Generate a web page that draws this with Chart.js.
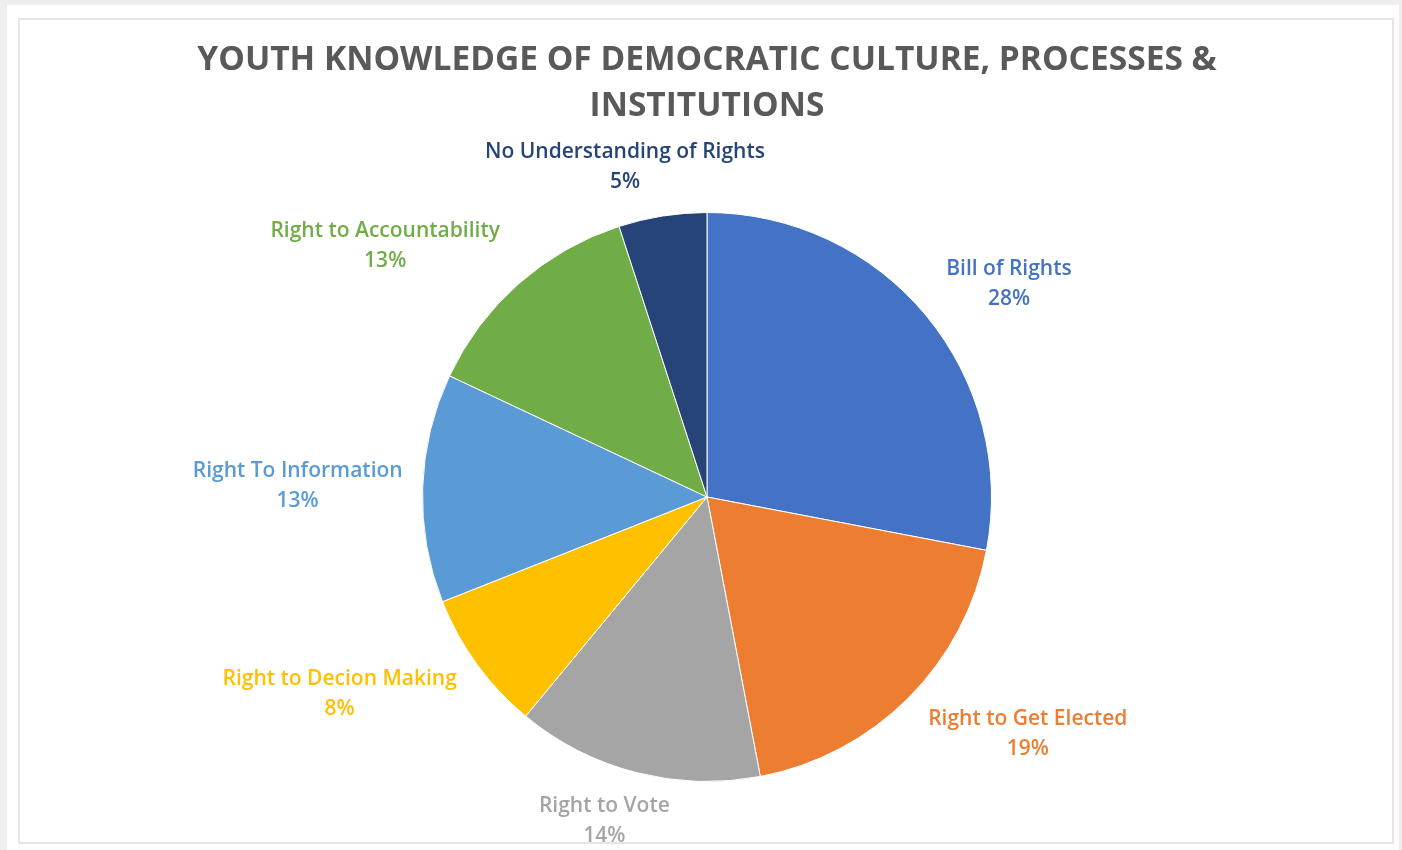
<!DOCTYPE html>
<html>
<head>
<meta charset="utf-8">
<script src="https://cdn.jsdelivr.net/npm/chart.js@4"></script>
<style>
  html, body { margin: 0; padding: 0; width: 1402px; height: 850px; overflow: hidden; background: #efeeec; }
  #sheet { position: absolute; left: 7px; top: 5px; width: 1392px; height: 845px; background: #ffffff; }
  #frame { position: absolute; left: 18px; top: 18px; width: 1372px; height: 822px; border: 2px solid #e6e6e6; background: #ffffff; }
  #wrap { position: absolute; left: 0; top: 0; width: 1402px; height: 850px; }
</style>
</head>
<body>
<div id="sheet"></div>
<div id="frame"></div>
<div id="wrap"><canvas id="c" width="1402" height="850"></canvas></div>
<script>
const titleLines = ['YOUTH KNOWLEDGE OF DEMOCRATIC CULTURE, PROCESSES &', 'INSTITUTIONS'];
const categories = ['Bill of Rights', 'Right to Get Elected', 'Right to Vote', 'Right to Decion Making',
                    'Right To Information', 'Right to Accountability', 'No Understanding of Rights'];
const values = [28, 19, 14, 8, 13, 13, 5];
const sliceColors = ['#4472C4', '#ED7D31', '#A5A5A5', '#FFC000', '#5B9BD5', '#70AD47', '#264478'];
const labelColors = ['#4472C4', '#ED7D31', '#A5A5A5', '#FFC000', '#5B9BD5', '#70AD47', '#264478'];

const labelFont = '600 21px "Open Sans", "DejaVu Sans", sans-serif';

const outsideLabels = {
  id: 'outsideLabels',
  afterDatasetsDraw(chart) {
    const ctx = chart.ctx;
    const meta = chart.getDatasetMeta(0);
    ctx.save();
    ctx.font = labelFont;
    ctx.textAlign = 'center';
    ctx.textBaseline = 'middle';
    meta.data.forEach((arc, i) => {
      const p = arc.getProps(['x', 'y', 'startAngle', 'endAngle', 'outerRadius'], true);
      const a = (p.startAngle + p.endAngle) / 2;
      const c = Math.cos(a), s = Math.sin(a);
      const ax = p.x + c * p.outerRadius;
      const ay = p.y + s * p.outerRadius;
      const line1 = chart.data.labels[i];
      const line2 = chart.data.datasets[0].data[i] + '%';
      const w = Math.max(ctx.measureText(line1).width, ctx.measureText(line2).width);
      const k = Math.max(-1, Math.min(1, c * 1.5));
      const cx = ax + k * (w / 2 + 20);
      const cy = ay + s * 50;
      ctx.fillStyle = labelColors[i];
      ctx.fillText(line1, cx, cy - 15);
      ctx.fillText(line2, cx, cy + 15);
    });
    ctx.restore();
  }
};

new Chart(document.getElementById('c'), {
  type: 'pie',
  data: {
    labels: categories,
    datasets: [{
      data: values,
      backgroundColor: sliceColors,
      borderColor: '#ffffff',
      borderWidth: 1,
      hoverBorderWidth: 1
    }]
  },
  options: {
    responsive: false,
    animation: false,
    layout: { padding: { top: 20, left: 20, right: 8, bottom: 68 } },
    plugins: {
      legend: { display: false },
      tooltip: { enabled: false },
      title: {
        display: true,
        text: titleLines,
        color: '#595959',
        font: { family: '"Open Sans", "DejaVu Sans", sans-serif', size: 33.5, weight: '700', lineHeight: '46px' },
        padding: { top: 17, bottom: 83 }
      }
    }
  },
  plugins: [outsideLabels]
});
</script>
</body>
</html>
